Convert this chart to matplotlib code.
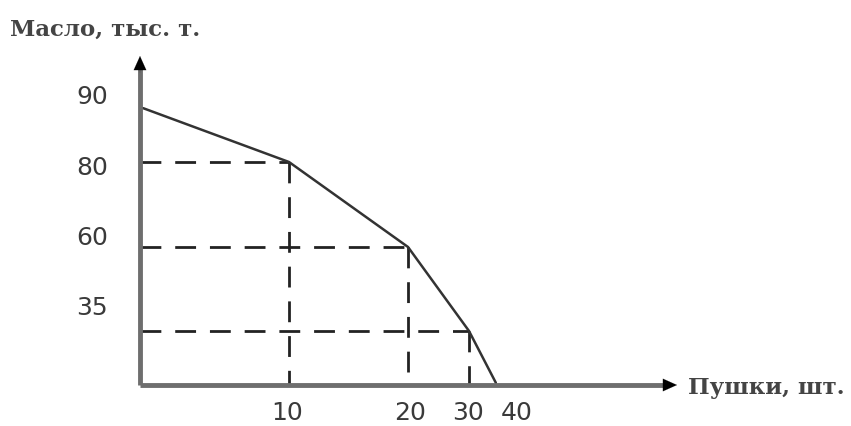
import numpy as np
import matplotlib.pyplot as plt

# production possibilities: guns vs butter
guns = [0, 10, 20, 30, 40]
butter = [90, 80, 60, 35, 0]
x_ticks = [10, 20, 30, 40]
y_ticks = [90, 80, 60, 35]

# the schematic axes are not linear: anchor positions (pixels from origin)
x_anchor = [0, 149, 268, 329, 357]
y_anchor = [0, 54, 138, 223, 278]

W, H = 851, 427
ox, oy = 140, 386  # origin in pixels (from top-left)

fig = plt.figure(figsize=(W / 100, H / 100), dpi=100)
ax = fig.add_axes([ox / W, (H - oy) / H, x_anchor[-1] / W, y_anchor[-1] / H])

ax.set_xscale('function', functions=(lambda v: np.interp(v, guns, x_anchor),
                                     lambda p: np.interp(p, x_anchor, guns)))
ax.set_yscale('function', functions=(lambda v: np.interp(v, butter[::-1], y_anchor),
                                     lambda p: np.interp(p, y_anchor, butter[::-1])))
ax.set_xlim(0, 40)
ax.set_ylim(0, 90)
ax.set_axis_off()

# dashed guides
for g, b in zip(guns[1:-1], butter[1:-1]):
    ax.plot([0, g], [b, b], color='#222222', lw=2, ls=(0, (7.5, 5)), zorder=1)
    ax.plot([g, g], [b, 0], color='#222222', lw=2, ls=(0, (7.5, 5)), zorder=1)

ax.plot(guns, butter, color='#333333', lw=1.8, solid_joinstyle='miter', zorder=2)

# axes with arrows
axc = '#6e6e6e'
xr = (677 - ox) / x_anchor[-1]
yt = (oy - 57) / y_anchor[-1]
ax.plot([0, xr - 0.03], [0, 0], transform=ax.transAxes, color=axc, lw=3.5,
        clip_on=False, solid_capstyle='butt', zorder=3)
ax.plot([0, 0], [0, yt - 0.04], transform=ax.transAxes, color=axc, lw=3.5,
        clip_on=False, solid_capstyle='butt', zorder=3)
arrow = dict(arrowstyle='-|>,head_length=1.0,head_width=0.45',
             color='black', lw=0.1, shrinkA=0, shrinkB=0)
ax.annotate('', xy=(xr, 0), xytext=(xr - 0.04, 0), xycoords='axes fraction',
            arrowprops=arrow, zorder=4)
ax.annotate('', xy=(0, yt), xytext=(0, yt - 0.06), xycoords='axes fraction',
            arrowprops=arrow, zorder=4)

# tick labels
tick_font = dict(fontsize=18, color='#3a3a3a', family='DejaVu Sans',
                 ha='center', va='center', annotation_clip=False)
y_off = {90: 11, 80: -5, 60: 10, 35: 24}
for v in y_ticks:
    ax.annotate(str(v), xy=(0, v), xytext=(-48, y_off[v]),
                textcoords='offset pixels', **tick_font)
x_off = {10: -2, 20: 2, 30: -1, 40: 20}
for v in x_ticks:
    ax.annotate(str(v), xy=(v, 0), xytext=(x_off[v], -27),
                textcoords='offset pixels', **tick_font)

# axis titles
title_font = dict(fontsize=16.5, family='DejaVu Serif', weight='bold',
                  color='#444444', ha='left', va='center')
ax.text(-130 / x_anchor[-1], (oy - 30) / y_anchor[-1], 'Масло, тыс. т.',
        transform=ax.transAxes, **title_font)
ax.text((688 - ox) / x_anchor[-1], -2 / y_anchor[-1], 'Пушки, шт.',
        transform=ax.transAxes, **title_font)

fig.savefig('out.png', dpi=100)
